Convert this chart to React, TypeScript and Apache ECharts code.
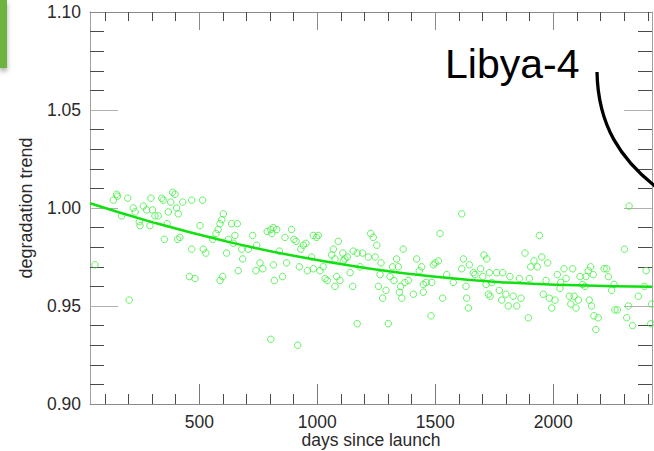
import React, { useEffect, useRef } from "react";
import * as echarts from "echarts";

const scatterDays = [
  35, 58, 136, 150, 153, 197, 171, 220, 228, 246, 249, 263, 277, 295, 302, 291, 312, 326, 341, 347,
  364, 369, 379, 387, 397, 404, 411, 430, 468, 514, 352, 408, 418, 468, 517, 528, 503, 557, 571, 580,
  588, 595, 602, 616, 623, 637, 661, 651, 644, 665, 680, 684, 708, 726, 743, 740, 757, 769, 788, 803,
  814, 818, 839, 458, 482, 588, 599, 203,
  814, 828, 807, 863, 891, 901, 910, 870, 853, 930, 941, 952, 924, 958, 976, 983, 997, 1004, 983, 1011,
  1025, 1033, 1042, 1068, 1061, 1075, 1089, 1108, 1110, 1117, 1082, 1096, 1075, 1127, 1139, 1150, 1152, 1169, 1192, 1181,
  1216, 1226, 1237, 1252, 1245, 1270, 1259, 1266, 1277, 1291, 1308, 1319, 1336, 1343, 1325, 1353, 1348, 1358, 1364, 1371,
  1386, 1407, 1421, 1432, 1442, 1449, 1461, 1449, 1482, 1492, 1513, 1520, 1531, 1548, 1576, 1612, 1619, 1633, 1640, 1169,
  1301, 803, 917, 1499, 1485,
  1612, 1630, 1644, 1661, 1668, 1692, 1706, 1718, 1701, 1715, 1725, 1732, 1729, 1739, 1760, 1771, 1781, 1785, 1799, 1816,
  1809, 1830, 1845, 1856, 1863, 1880, 1898, 1894, 1904, 1918, 1932, 1941, 1951, 1976, 1957, 1969, 1983, 1993, 2007, 2017,
  2028, 2031, 2045, 2054, 2068, 2074, 2082, 2088, 2096, 2106, 2113, 2124, 2134, 2138, 2148, 2158, 2152, 2162, 2169, 2172,
  2180, 2190, 2215, 2226, 2233, 2247, 2257, 2261, 2271, 2301, 2321, 2360, 2318, 2311, 2336, 2393, 2386, 2417, 2413,
];

const scatterValues = [
  1.000, 0.971, 1.004, 1.007, 1.006, 1.005, 0.996, 1.000, 0.998, 0.993, 0.991, 1.001, 0.999, 1.005, 0.999, 0.991, 0.996, 0.996, 1.005, 1.004,
  0.992, 0.998, 1.003, 1.008, 1.007, 1.000, 0.997, 1.003, 1.004, 1.004, 0.984, 0.984, 0.985, 0.979, 0.979, 0.977, 0.991, 0.984, 0.987, 0.989,
  0.992, 0.994, 0.997, 0.977, 0.984, 0.992, 0.992, 0.986, 0.982, 0.968, 0.979, 0.974, 0.979, 0.986, 0.981, 0.968, 0.972, 0.969, 0.988, 0.989,
  0.971, 0.963, 0.978, 0.965, 0.964, 0.963, 0.965, 0.953,
  0.990, 0.989, 0.987, 0.985, 0.989, 0.984, 0.983, 0.972, 0.965, 0.979, 0.981, 0.982, 0.970, 0.968, 0.975, 0.986, 0.985, 0.986, 0.969, 0.968,
  0.970, 0.964, 0.963, 0.979, 0.976, 0.974, 0.983, 0.977, 0.973, 0.974, 0.965, 0.963, 0.960, 0.975, 0.967, 0.960, 0.978, 0.977, 0.977, 0.970,
  0.975, 0.987, 0.985, 0.981, 0.975, 0.972, 0.960, 0.966, 0.954, 0.958, 0.965, 0.970, 0.974, 0.970, 0.963, 0.960, 0.957, 0.954, 0.979, 0.962,
  0.963, 0.956, 0.974, 0.968, 0.970, 0.961, 0.962, 0.957, 0.945, 0.971, 0.973, 0.987, 0.954, 0.966, 0.962, 0.997, 0.974, 0.954, 0.949, 0.941,
  0.941, 0.933, 0.930, 0.972, 0.962,
  0.969, 0.960, 0.971, 0.967, 0.966, 0.969, 0.976, 0.974, 0.965, 0.961, 0.956, 0.955, 0.967, 0.962, 0.967, 0.958, 0.953, 0.967, 0.956, 0.965,
  0.950, 0.955, 0.950, 0.964, 0.954, 0.977, 0.964, 0.944, 0.970, 0.973, 0.970, 0.986, 0.975, 0.972, 0.956, 0.963, 0.954, 0.949, 0.953, 0.966,
  0.959, 0.962, 0.969, 0.964, 0.955, 0.951, 0.969, 0.955, 0.949, 0.953, 0.965, 0.961, 0.960, 0.965, 0.968, 0.970, 0.953, 0.950, 0.966, 0.945,
  0.938, 0.944, 0.969, 0.969, 0.965, 0.958, 0.961, 0.948, 0.948, 0.979, 1.001, 0.955, 0.950, 0.944, 0.940, 0.968, 0.960, 0.951, 0.941,
];

const fitDays = [37, 300, 600, 900, 1200, 1500, 1800, 2100, 2418];
const fitValues = [1.0024, 0.9928, 0.9834, 0.9756, 0.9695, 0.9649, 0.962, 0.9606, 0.9598];

const xMajorTicks = [500, 1000, 1500, 2000];
const xMinorTicks = [100, 200, 300, 400, 600, 700, 800, 900, 1100, 1200, 1300, 1400, 1600, 1700, 1800, 1900, 2100, 2200, 2300, 2400];
const yMajorTicks = [0.95, 1.0, 1.05];
const yMinorTicks = [0.91, 0.92, 0.93, 0.94, 0.96, 0.97, 0.98, 0.99, 1.01, 1.02, 1.03, 1.04, 1.06, 1.07, 1.08, 1.09];
const yLabels = [0.9, 0.95, 1.0, 1.05, 1.1];

const xTitle = "days since launch";
const yTitle = "degradation trend";
const annotation = "Libya-4";

const X_MIN = 37;
const X_MAX = 2418;
const Y_MIN = 0.9;
const Y_MAX = 1.1;

const FONT = "'Liberation Sans', Arial, Helvetica, sans-serif";

export default function App() {
  const ref = useRef<HTMLDivElement>(null);

  useEffect(() => {
    if (!ref.current) return;
    const chart = echarts.init(ref.current, null, { renderer: "svg" });

    const mkX = (position: string, ticks: number[], len: number, color: string, withLabel: boolean, showLine: boolean) => ({
      type: "value",
      position,
      min: X_MIN,
      max: X_MAX,
      axisLine: { show: showLine, onZero: false, lineStyle: { color: "#8a8a8a", width: 1 } },
      axisTick: { show: true, inside: true, length: len, customValues: ticks, lineStyle: { color, width: 1 } },
      axisLabel: withLabel
        ? {
            show: true,
            customValues: xMajorTicks,
            formatter: (v: number) => String(v),
            fontSize: 17.5,
            color: "#2a2a2a",
            fontFamily: FONT,
            margin: 9,
          }
        : { show: false },
      splitLine: { show: false },
    });

    const mkY = (position: string, ticks: number[], len: number, color: string, withLabel: boolean, showLine: boolean) => ({
      type: "value",
      position,
      min: Y_MIN,
      max: Y_MAX,
      axisLine: { show: showLine, onZero: false, lineStyle: { color: "#a0a0a0", width: 1 } },
      axisTick: { show: true, inside: true, length: len, customValues: ticks, lineStyle: { color, width: 1 } },
      axisLabel: withLabel
        ? {
            show: true,
            customValues: yLabels,
            formatter: (v: number) => v.toFixed(2),
            fontSize: 17.5,
            color: "#2a2a2a",
            fontFamily: FONT,
            margin: 9,
          }
        : { show: false },
      splitLine: { show: false },
      ...(withLabel
        ? {
            name: yTitle,
            nameLocation: "middle",
            nameGap: 55,
            nameTextStyle: { fontSize: 18, color: "#2a2a2a", fontFamily: FONT },
          }
        : {}),
    });

    const scatterData = scatterDays.map((d, i) => [d, scatterValues[i]]);
    const fitData = fitDays.map((d, i) => [d, fitValues[i]]);

    chart.setOption({
      animation: false,
      backgroundColor: "#ffffff",
      grid: { left: 90, right: 2, top: 12, bottom: 47, containLabel: false, outerBoundsMode: "none" },
      xAxis: [
        mkX("bottom", xMinorTicks, 10, "#4a4a4a", true, true),
        mkX("bottom", xMajorTicks, 20, "#7a7a7a", false, false),
        mkX("top", xMinorTicks, 9, "#4a4a4a", false, true),
        mkX("top", xMajorTicks, 18, "#8a8a8a", false, false),
      ],
      yAxis: [
        mkY("left", yMinorTicks, 14, "#4a4a4a", true, true),
        mkY("left", yMajorTicks, 28, "#b0b0b0", false, false),
        mkY("right", yMinorTicks, 14, "#4a4a4a", false, true),
        mkY("right", yMajorTicks, 28, "#b0b0b0", false, false),
      ],
      series: [
        {
          type: "scatter",
          xAxisIndex: 0,
          yAxisIndex: 0,
          data: scatterData,
          symbol: "circle",
          symbolSize: 6.5,
          itemStyle: { color: "rgba(0,0,0,0)", borderColor: "#3ef03e", borderWidth: 1 },
          z: 2,
        },
        {
          type: "line",
          xAxisIndex: 0,
          yAxisIndex: 0,
          data: fitData,
          smooth: true,
          showSymbol: false,
          symbol: "none",
          lineStyle: { color: "#10e010", width: 2.5 },
          z: 3,
        },
      ],
      graphic: [
        {
          type: "text",
          x: 371,
          y: 440,
          style: {
            text: xTitle,
            fontSize: 17.5,
            fontFamily: FONT,
            fill: "#2a2a2a",
            align: "center",
            verticalAlign: "middle",
          },
          z: 10,
        },
        {
          type: "rect",
          shape: { x: 0, y: 0, width: 7, height: 68 },
          style: { fill: "#6cb33f", shadowBlur: 5, shadowColor: "rgba(0,0,0,0.35)", shadowOffsetY: 3 },
          z: 10,
        },
        {
          type: "text",
          x: 445,
          y: 64,
          style: {
            text: annotation,
            fontSize: 41,
            fontFamily: FONT,
            fill: "#000000",
            verticalAlign: "middle",
            align: "left",
          },
          z: 10,
        },
        {
          type: "bezierCurve",
          shape: { x1: 597, y1: 72, cpx1: 598, cpy1: 125, cpx2: 620, cpy2: 160, x2: 660, y2: 190 },
          style: { stroke: "#000000", lineWidth: 3.3, fill: "none" },
          z: 10,
        },
      ],
    });

    return () => chart.dispose();
  }, []);

  return <div ref={ref} style={{ position: "absolute", left: 0, top: 0, width: 654, height: 451 }} />;
}
